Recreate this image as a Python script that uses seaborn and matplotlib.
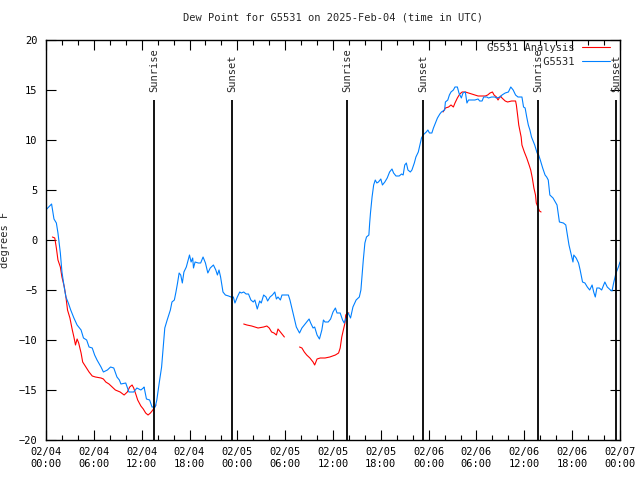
"""Dew point chart for station G5531, gnuplot-like look."""

import matplotlib
matplotlib.use("Agg")

import matplotlib.pyplot as plt
import numpy as np
import pandas as pd
import seaborn as sns

# hours since 2025-02-04 00:00 UTC
obs_hours = [
    0.1, 0.7, 1.0, 1.3, 1.5, 1.8, 2.0, 2.3, 2.5, 2.8, 3.1, 3.5, 3.9, 4.4, 4.7, 5.1, 5.4, 5.8, 6.1, 6.4,
    6.9, 7.2, 7.7, 8.1, 8.5, 8.9, 9.2, 9.4, 10.0, 10.4, 11.0, 11.4, 11.9, 12.2, 12.3, 12.6, 13.0, 13.3, 13.7, 13.9,
    14.2, 14.5, 14.7, 14.9, 15.2, 15.6, 15.8, 16.1, 16.3, 16.5, 16.7, 16.9, 17.1, 17.3, 17.6, 17.9, 18.0, 18.2, 18.4, 18.5,
    18.7, 19.1, 19.4, 19.7, 20.0, 20.3, 20.6, 21.0, 21.3, 21.5, 21.7, 21.9, 22.2, 22.5, 22.9, 23.2, 23.5, 23.7, 24.0, 24.3,
    24.5, 24.8, 25.1, 25.4, 25.7, 26.0, 26.2, 26.5, 26.8, 27.0, 27.3, 27.6, 27.8, 28.1, 28.4, 28.7, 28.9, 29.1, 29.4, 29.6,
    30.0, 30.4, 30.6, 30.9, 31.2, 31.4, 31.8, 32.1, 32.4, 32.7, 33.0, 33.2, 33.5, 33.7, 34.0, 34.3, 34.6, 34.8, 35.0, 35.4,
    35.7, 36.0, 36.3, 36.5, 36.9, 37.2, 37.4, 37.7, 37.9, 38.2, 38.5, 38.9, 39.3, 39.5, 39.6, 39.8, 40.0, 40.2, 40.5, 40.6,
    40.7, 40.9, 41.1, 41.3, 41.5, 41.7, 42.0, 42.2, 42.5, 42.8, 43.1, 43.4, 43.6, 43.9, 44.3, 44.6, 44.8, 45.0, 45.2, 45.4,
    45.7, 45.9, 46.2, 46.4, 46.7, 46.9, 47.1, 47.3, 47.7, 47.9, 48.1, 48.4, 48.6, 48.9, 49.1, 49.4, 49.6, 50.0, 50.1, 50.4,
    50.6, 50.8, 51.1, 51.3, 51.6, 51.8, 52.1, 52.3, 52.6, 52.8, 53.0, 53.4, 53.8, 54.2, 54.4, 54.7, 54.9, 55.3, 55.5, 55.9,
    56.3, 56.5, 57.0, 57.2, 57.6, 58.0, 58.3, 58.6, 58.9, 59.2, 59.7, 59.9, 60.1, 60.3, 60.5, 60.7, 60.9, 61.1, 61.3, 61.6,
    61.8, 62.0, 62.3, 62.6, 62.8, 63.0, 63.2, 63.6, 64.1, 64.4, 64.9, 65.2, 65.4, 65.6, 65.9, 66.1, 66.2, 66.5, 66.8, 67.0,
    67.3, 67.6, 67.9, 68.2, 68.5, 68.7, 68.9, 69.1, 69.4, 69.7, 70.1, 70.4, 70.8, 71.0, 71.2, 71.5, 71.8, 72.0,
]
obs_dewpt = [
    3.1, 3.6, 2.1, 1.7, 0.7, -1.3, -3.2, -4.8, -5.7, -6.3, -7.0, -7.8, -8.5, -9.0, -9.8, -10.0, -10.7, -10.8, -11.5, -12.0,
    -12.7, -13.2, -13.0, -12.7, -12.8, -13.7, -14.0, -14.4, -14.3, -15.2, -15.2, -14.8, -15.0, -14.8, -14.7, -15.9, -16.0, -16.7, -16.7, -16.0,
    -14.3, -12.7, -10.7, -8.8, -8.0, -7.0, -6.2, -6.0, -5.2, -4.3, -3.3, -3.5, -4.3, -3.2, -2.7, -1.8, -1.5, -2.2, -1.8, -2.8,
    -2.2, -2.3, -2.3, -1.7, -2.3, -3.3, -2.8, -2.5, -3.0, -3.5, -3.0, -3.7, -5.2, -5.5, -5.6, -5.7, -5.7, -6.3, -5.7, -5.2,
    -5.3, -5.2, -5.4, -5.4, -6.0, -6.2, -6.0, -6.9, -6.1, -6.3, -5.5, -5.7, -6.1, -5.7, -5.5, -5.2, -5.9, -5.7, -6.0, -5.5,
    -5.5, -5.5, -6.0, -7.0, -8.0, -8.7, -9.3, -8.8, -8.5, -8.2, -7.9, -8.3, -8.8, -8.7, -9.5, -9.9, -9.0, -8.0, -8.2, -8.2,
    -7.9, -7.2, -6.8, -7.3, -7.3, -8.0, -8.3, -7.7, -7.3, -7.8, -6.7, -6.0, -5.7, -5.0, -4.0, -2.0, -0.3, 0.3, 0.5, 1.7,
    2.7, 4.3, 5.5, 6.0, 5.7, 5.8, 6.1, 5.5, 5.8, 6.2, 6.8, 7.1, 6.7, 6.4, 6.4, 6.6, 6.5, 7.5, 7.7, 7.0,
    6.8, 7.0, 7.7, 8.3, 8.8, 9.5, 10.2, 10.5, 10.8, 11.0, 10.7, 10.7, 11.2, 11.8, 12.2, 12.6, 12.8, 13.0, 13.8, 14.0,
    14.5, 14.8, 15.0, 15.3, 15.3, 14.7, 14.2, 14.7, 14.8, 13.7, 14.0, 14.0, 14.0, 14.1, 13.9, 13.9, 14.3, 14.3, 14.2, 14.3,
    14.3, 14.2, 14.3, 14.5, 14.7, 14.8, 15.3, 15.0, 14.5, 14.3, 14.3, 13.3, 13.2, 12.3, 11.5, 11.0, 10.3, 9.9, 9.5, 8.7,
    8.5, 8.0, 7.2, 6.5, 6.3, 6.0, 4.5, 4.2, 3.5, 1.8, 1.7, 1.5, 0.5, -0.5, -1.5, -2.2, -1.5, -1.8, -2.3, -3.0,
    -4.2, -4.3, -4.7, -5.0, -4.5, -5.2, -5.7, -4.8, -4.8, -5.0, -4.2, -4.7, -5.0, -5.1, -4.3, -3.3, -2.7, -2.2,
]

# analysis series comes in four separate pieces
ana_hours_1 = [0.8, 1.1, 1.3, 1.5, 1.8, 2.0, 2.3, 2.5, 2.7, 3.0, 3.3, 3.5, 3.7, 3.9, 4.1, 4.4, 4.6, 5.0, 5.4, 5.8,
               6.2, 6.9, 7.2, 7.5, 7.9, 8.3, 8.7, 9.3, 9.8, 10.2, 10.5, 10.8, 11.0, 11.3, 11.5, 11.9, 12.2, 12.5, 12.8, 13.1,
               13.4, 13.6, 13.8]
ana_dewpt_1 = [0.3, 0.2, -0.8, -2.0, -2.7, -3.7, -4.7, -5.7, -7.0, -7.8, -9.0, -9.7, -10.5, -9.9, -10.3, -11.3, -12.2, -12.7, -13.2, -13.6,
               -13.7, -13.8, -13.9, -14.2, -14.4, -14.7, -15.0, -15.2, -15.5, -15.2, -14.7, -14.5, -14.8, -15.5, -16.0, -16.6, -16.9, -17.3, -17.5, -17.3,
               -17.0, -16.7, -16.5]
ana_hours_2 = [24.8, 25.2, 25.8, 26.2, 26.6, 27.3, 27.7, 28.0, 28.3, 28.6, 28.9, 29.1, 29.4, 29.7, 29.9]
ana_dewpt_2 = [-8.4, -8.5, -8.6, -8.7, -8.8, -8.7, -8.6, -8.8, -9.2, -9.3, -9.5, -8.9, -9.2, -9.5, -9.7]
ana_hours_3 = [31.8, 32.1, 32.4, 32.7, 33.1, 33.5, 33.7, 34.0, 34.4, 35.0, 35.6, 36.3, 36.7, 36.9, 37.1, 37.3, 37.5, 37.6, 37.8, 38.0]
ana_dewpt_3 = [-10.7, -10.8, -11.2, -11.5, -11.8, -12.2, -12.5, -11.9, -11.8, -11.8, -11.7, -11.5, -11.3, -10.8, -9.7, -9.0, -8.3, -7.5, -7.3, -7.3]
ana_hours_4 = [49.8, 50.1, 50.5, 50.8, 51.1, 51.3, 51.6, 51.9, 52.2, 52.6, 53.0, 53.4, 53.8, 54.2, 54.7, 55.1, 55.4, 55.7, 56.0, 56.2,
               56.5, 56.7, 57.0, 57.2, 57.6, 57.9, 58.4, 58.9, 59.0, 59.2, 59.3, 59.6, 59.7, 60.0, 60.3, 60.6, 60.8, 61.0, 61.2, 61.4,
               61.5, 61.7, 61.9, 62.1]
ana_dewpt_4 = [12.8, 13.2, 13.3, 13.5, 13.3, 13.7, 14.2, 14.6, 14.8, 14.8, 14.7, 14.6, 14.5, 14.4, 14.4, 14.4, 14.5, 14.7, 14.8, 14.5,
               14.3, 14.0, 14.4, 14.2, 13.9, 13.8, 13.9, 13.9, 13.5, 12.2, 11.5, 10.3, 9.5, 8.8, 8.2, 7.5, 7.0, 6.2, 5.2, 4.5,
               3.7, 3.3, 2.9, 2.8]

sun_labels = ["Sunrise", "Sunset", "Sunrise", "Sunset", "Sunrise", "Sunset"]
sun_hours = [13.55, 23.35, 37.75, 47.3, 61.7, 71.5]

tick_hours = list(range(0, 73, 6))
tick_labels = ["02/04\n00:00", "02/04\n06:00", "02/04\n12:00", "02/04\n18:00",
               "02/05\n00:00", "02/05\n06:00", "02/05\n12:00", "02/05\n18:00",
               "02/06\n00:00", "02/06\n06:00", "02/06\n12:00", "02/06\n18:00",
               "02/07\n00:00"]

obs = pd.DataFrame({"hours": obs_hours, "dewpt": obs_dewpt})
ana = pd.concat([
    pd.DataFrame({"hours": h, "dewpt": d, "segment": i})
    for i, (h, d) in enumerate([(ana_hours_1, ana_dewpt_1), (ana_hours_2, ana_dewpt_2),
                                (ana_hours_3, ana_dewpt_3), (ana_hours_4, ana_dewpt_4)])
], ignore_index=True)

sns.set_theme(style="ticks")
plt.rcParams["font.family"] = ["DejaVu Sans Mono"]
fs = 7.5

fig = plt.figure(figsize=(6.4, 4.8), dpi=100)
ax = fig.add_axes([46 / 640, 40 / 480, 574 / 640, 400 / 480])

sns.lineplot(data=ana, x="hours", y="dewpt", units="segment", estimator=None, sort=False,
             color="#ff0000", linewidth=0.8, ax=ax)
sns.lineplot(data=obs, x="hours", y="dewpt", estimator=None, sort=False,
             color="#0080ff", linewidth=0.8, ax=ax)

# sunrise / sunset markers
ax.vlines(sun_hours, -20, 14, color="black", linewidth=1.3, zorder=3)
for hour, label in zip(sun_hours, sun_labels):
    ax.text(hour, 14.8, label, rotation=90, ha="center", va="bottom", fontsize=fs)

# legend, right-justified text like gnuplot (monospace padding)
from matplotlib.lines import Line2D
handles = [Line2D([], [], color="#ff0000", linewidth=0.8), Line2D([], [], color="#0080ff", linewidth=0.8)]
ax.legend(handles, ["G5531 Analysis", "         G5531"], loc="upper right",
          bbox_to_anchor=(0.983, 0.993), markerfirst=False, frameon=False, fontsize=fs,
          borderpad=0, borderaxespad=0, handlelength=2.7, handletextpad=0.7, labelspacing=0.4)

ax.set_xlim(0, 72)
ax.set_ylim(-20, 20)
ax.set_xticks(tick_hours)
ax.set_xticklabels(tick_labels)
ax.set_xticks(list(range(0, 73, 2)), minor=True)
ax.set_yticks(list(range(-20, 21, 5)))
ax.tick_params(which="both", direction="in", top=True, right=True, labelsize=fs, colors="black")
ax.tick_params(which="major", length=7, width=0.8)
ax.tick_params(which="minor", length=3.5, width=0.8)
ax.tick_params(axis="x", pad=5)
ax.tick_params(axis="y", pad=6)
for spine in ax.spines.values():
    spine.set_visible(True)
    spine.set_color("black")
    spine.set_linewidth(1.0)

ax.set_xlabel("")
ax.set_ylabel("degrees F", fontsize=fs)
ax.yaxis.set_label_coords(-36 / 574, 0.5)
ax.set_title("Dew Point for G5531 on 2025-Feb-04 (time in UTC)", fontsize=fs, pad=14)

fig.savefig("out.png", dpi=100)
plt.close(fig)
